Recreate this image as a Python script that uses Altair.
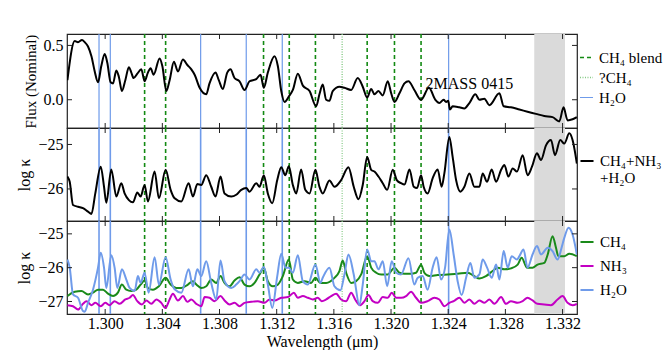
import altair as alt
import pandas as pd

FONT = "Liberation Serif"
FRAME = "#222222"
GREY = "#dadada"
BLUE = "#6f9bea"
DGREEN = "#138a13"
LGREEN = "#86c986"
SP_GREEN = "#1a8a1a"
MAGENTA = "#c300c3"

# ---------------- data ----------------
X_DOMAIN = [1.29733, 1.33301]
X_TICKS = [1.300, 1.304, 1.308, 1.312, 1.316, 1.320, 1.324, 1.328, 1.332]

FLUX_DOMAIN = [-0.26, 0.605]
FLUX_TICKS = [0.0, 0.5]
K2_DOMAIN = [-26.72, -24.63]
K2_TICKS = [-26, -25]
K3_DOMAIN = [-27.37, -24.62]
K3_TICKS = [-27, -26, -25]

H2O_LINES = [1.29957, 1.30036, 1.30668, 1.30987, 1.31239, 1.32403]
CH4_BLEND_LINES = [1.30276, 1.30423, 1.31108, 1.31288, 1.31471, 1.31833, 1.32024, 1.32210]
QCH4_LINES = [1.31658]
SHADE = [1.33002, 1.33217]
LABEL = ("2MASS 0415", 1.32548, 0.147)

LINE_KINDS = ["CH₄ blend", "?CH₄", "H₂O"]
MIX_NAME = "CH₄+NH₃|+H₂O"
SPECIES = ["CH₄", "NH₃", "H₂O"]

FLUX_PTS = [
    (1.29736, 0.18), (1.29787, 0.54), (1.29810, 0.53), (1.29838, 0.55), (1.29857, 0.53),
    (1.29880, 0.49), (1.29904, 0.40), (1.29927, 0.26), (1.29950, 0.16), (1.29973, 0.31),
    (1.29997, 0.42), (1.30015, 0.34), (1.30038, 0.16), (1.30055, 0.15), (1.30078, 0.27),
    (1.30096, 0.21), (1.30117, 0.08), (1.30141, 0.18), (1.30166, 0.30), (1.30183, 0.25),
    (1.30199, 0.20), (1.30225, 0.24), (1.30253, 0.28), (1.30276, 0.17), (1.30299, 0.25),
    (1.30318, 0.29), (1.30339, 0.23), (1.30381, 0.38), (1.30400, 0.31), (1.30428, 0.08),
    (1.30451, 0.18), (1.30481, 0.35), (1.30509, 0.26), (1.30544, 0.37), (1.30575, 0.32),
    (1.30603, 0.28), (1.30626, 0.23), (1.30661, 0.11), (1.30707, 0.05), (1.30730, 0.15),
    (1.30772, 0.25), (1.30795, 0.18), (1.30823, 0.10), (1.30854, 0.25), (1.30877, 0.28),
    (1.30905, 0.20), (1.30940, 0.17), (1.30975, 0.09), (1.31010, 0.17), (1.31057, 0.19),
    (1.31087, 0.23), (1.31110, 0.11), (1.31138, 0.25), (1.31185, 0.40), (1.31208, 0.31),
    (1.31232, 0.08), (1.31255, -0.02), (1.31285, 0.03), (1.31313, 0.09), (1.31348, 0.24),
    (1.31383, 0.13), (1.31430, 0.08), (1.31476, -0.06), (1.31499, 0.05), (1.31522, 0.14),
    (1.31546, 0.00), (1.31569, -0.01), (1.31592, 0.08), (1.31639, 0.12), (1.31674, 0.11),
    (1.31721, 0.09), (1.31767, 0.20), (1.31802, 0.12), (1.31833, 0.02), (1.31861, 0.10),
    (1.31884, 0.05), (1.31912, 0.08), (1.31942, 0.04), (1.31977, 0.17), (1.32001, 0.06),
    (1.32024, -0.02), (1.32059, 0.06), (1.32094, 0.15), (1.32122, 0.17), (1.32163, 0.09),
    (1.32210, 0.00), (1.32265, 0.11), (1.32310, 0.00), (1.32338, -0.03), (1.32368, 0.00),
    (1.32385, -0.02), (1.32400, -0.01), (1.32412, -0.09), (1.32431, -0.06), (1.32478, -0.07),
    (1.32513, -0.08), (1.32548, -0.03), (1.32590, 0.05), (1.32618, 0.00), (1.32653, 0.01),
    (1.32688, -0.05), (1.32758, 0.06), (1.32788, -0.06), (1.32839, -0.07), (1.32898, -0.09),
    (1.32955, -0.11), (1.33014, -0.13), (1.33072, -0.15), (1.33130, -0.16), (1.33177, -0.20),
    (1.33207, -0.07), (1.33235, -0.19), (1.33270, -0.18), (1.33300, -0.16),
]

MIX_PTS = [
    (1.29736, -25.72), (1.29752, -25.84), (1.29775, -26.36), (1.29810, -26.40), (1.29845, -26.43),
    (1.29880, -26.51), (1.29904, -26.56), (1.29931, -26.10), (1.29969, -25.50), (1.29992, -25.95),
    (1.30008, -26.31), (1.30043, -25.56), (1.30078, -26.17), (1.30113, -25.87), (1.30136, -26.10),
    (1.30166, -26.25), (1.30194, -26.30), (1.30225, -26.08), (1.30248, -26.17), (1.30276, -25.91),
    (1.30299, -26.28), (1.30346, -25.61), (1.30376, -26.21), (1.30423, -25.57), (1.30458, -26.02),
    (1.30486, -26.21), (1.30533, -26.28), (1.30584, -25.87), (1.30614, -26.17), (1.30645, -25.89),
    (1.30672, -25.91), (1.30707, -25.69), (1.30742, -25.95), (1.30772, -26.17), (1.30807, -25.72),
    (1.30835, -26.10), (1.30882, -26.17), (1.30917, -26.13), (1.30952, -26.02), (1.30987, -25.98),
    (1.31010, -26.06), (1.31057, -25.87), (1.31080, -25.95), (1.31110, -25.69), (1.31138, -26.10),
    (1.31169, -26.32), (1.31204, -25.80), (1.31232, -25.51), (1.31260, -25.69), (1.31285, -25.49),
    (1.31313, -25.91), (1.31337, -26.10), (1.31371, -25.56), (1.31400, -26.02), (1.31430, -26.10),
    (1.31471, -25.57), (1.31499, -25.95), (1.31522, -26.10), (1.31569, -25.81), (1.31604, -25.95),
    (1.31651, -25.80), (1.31702, -25.51), (1.31739, -25.95), (1.31772, -26.23), (1.31802, -25.91),
    (1.31833, -25.28), (1.31861, -25.57), (1.31884, -25.61), (1.31912, -25.72), (1.31942, -25.87),
    (1.31973, -26.02), (1.32012, -25.57), (1.32040, -25.80), (1.32070, -25.87), (1.32094, -25.90),
    (1.32129, -25.56), (1.32159, -25.95), (1.32182, -25.98), (1.32210, -25.69), (1.32228, -25.95),
    (1.32256, -26.10), (1.32291, -25.76), (1.32326, -25.56), (1.32354, -25.95), (1.32373, -25.65),
    (1.32408, -24.83), (1.32431, -25.28), (1.32455, -25.80), (1.32485, -26.06), (1.32513, -25.95),
    (1.32548, -25.65), (1.32583, -25.95), (1.32618, -25.95), (1.32641, -25.65), (1.32672, -25.84),
    (1.32704, -25.56), (1.32735, -25.84), (1.32770, -25.57), (1.32793, -25.46), (1.32821, -25.72),
    (1.32851, -25.54), (1.32881, -25.61), (1.32921, -25.24), (1.32955, -25.69), (1.32986, -25.50),
    (1.33021, -25.20), (1.33049, -25.35), (1.33084, -25.02), (1.33119, -24.90), (1.33147, -25.24),
    (1.33184, -24.90), (1.33212, -24.98), (1.33247, -24.75), (1.33270, -24.90), (1.33300, -25.43),
]

CH4_PTS = [
    (1.29736, -26.84), (1.29787, -26.71), (1.29834, -26.69), (1.29880, -26.79), (1.29915, -26.74),
    (1.29950, -26.65), (1.29985, -26.65), (1.30020, -26.77), (1.30055, -26.84), (1.30089, -26.74),
    (1.30117, -26.50), (1.30148, -26.65), (1.30183, -26.69), (1.30218, -26.65), (1.30248, -26.50),
    (1.30276, -26.38), (1.30299, -26.60), (1.30334, -26.65), (1.30376, -26.55), (1.30423, -26.30),
    (1.30458, -26.50), (1.30498, -26.60), (1.30533, -26.60), (1.30579, -26.50), (1.30614, -26.40),
    (1.30638, -26.50), (1.30672, -26.60), (1.30707, -26.55), (1.30742, -26.35), (1.30777, -26.45),
    (1.30807, -26.25), (1.30835, -26.45), (1.30870, -26.55), (1.30905, -26.38), (1.30940, -26.28),
    (1.30975, -26.50), (1.31010, -26.55), (1.31045, -26.45), (1.31080, -26.20), (1.31110, -26.00),
    (1.31138, -26.40), (1.31173, -26.55), (1.31208, -26.50), (1.31243, -26.25), (1.31285, -25.76),
    (1.31313, -26.35), (1.31348, -26.45), (1.31395, -26.40), (1.31441, -26.45), (1.31471, -26.30),
    (1.31506, -26.45), (1.31546, -26.45), (1.31604, -26.30), (1.31639, -26.10), (1.31662, -25.79),
    (1.31686, -26.15), (1.31721, -26.45), (1.31756, -26.40), (1.31791, -26.20), (1.31833, -25.66),
    (1.31861, -26.00), (1.31896, -26.15), (1.31931, -26.20), (1.31977, -26.20), (1.32024, -26.00),
    (1.32059, -26.15), (1.32094, -26.18), (1.32135, -26.18), (1.32175, -26.15), (1.32210, -25.91),
    (1.32233, -26.15), (1.32268, -26.25), (1.32326, -26.22), (1.32396, -26.20), (1.32466, -26.18),
    (1.32536, -26.15), (1.32583, -26.25), (1.32618, -26.32), (1.32664, -26.25), (1.32711, -26.10),
    (1.32746, -26.00), (1.32793, -26.05), (1.32839, -26.02), (1.32886, -25.91), (1.32914, -25.71),
    (1.32951, -26.00), (1.32990, -26.00), (1.33025, -25.91), (1.33072, -25.86), (1.33096, -25.61),
    (1.33130, -25.07), (1.33154, -25.41), (1.33170, -25.66), (1.33212, -25.66), (1.33247, -25.59),
    (1.33300, -25.66),
]

NH3_PTS = [
    (1.29736, -27.11), (1.29775, -27.14), (1.29810, -27.24), (1.29845, -27.07), (1.29869, -26.99),
    (1.29904, -27.11), (1.29931, -27.04), (1.29969, -27.14), (1.30001, -27.04), (1.30031, -27.11),
    (1.30066, -26.99), (1.30101, -27.07), (1.30141, -26.94), (1.30171, -26.89), (1.30194, -26.81),
    (1.30225, -26.99), (1.30257, -27.09), (1.30288, -26.97), (1.30323, -27.07), (1.30358, -26.94),
    (1.30393, -27.04), (1.30421, -27.19), (1.30451, -26.94), (1.30474, -26.77), (1.30509, -26.97),
    (1.30544, -26.84), (1.30575, -27.01), (1.30603, -26.94), (1.30638, -27.07), (1.30672, -27.14),
    (1.30696, -26.87), (1.30730, -26.89), (1.30765, -26.99), (1.30807, -26.84), (1.30835, -26.97),
    (1.30870, -27.09), (1.30905, -27.04), (1.30940, -27.14), (1.30975, -27.04), (1.31022, -27.01),
    (1.31068, -26.99), (1.31115, -27.04), (1.31150, -26.94), (1.31185, -26.97), (1.31232, -26.89),
    (1.31279, -26.87), (1.31320, -26.74), (1.31348, -26.89), (1.31383, -26.84), (1.31418, -26.89),
    (1.31453, -26.94), (1.31487, -26.89), (1.31515, -26.99), (1.31546, -26.94), (1.31581, -26.84),
    (1.31616, -26.77), (1.31651, -26.94), (1.31686, -26.99), (1.31721, -26.74), (1.31749, -26.94),
    (1.31784, -27.11), (1.31814, -26.99), (1.31842, -26.81), (1.31872, -26.99), (1.31907, -27.04),
    (1.31942, -26.87), (1.31977, -26.89), (1.32005, -26.74), (1.32036, -26.89), (1.32070, -26.89),
    (1.32105, -26.84), (1.32140, -26.71), (1.32175, -26.89), (1.32210, -27.04), (1.32256, -26.99),
    (1.32303, -26.89), (1.32338, -26.94), (1.32373, -27.14), (1.32408, -27.04), (1.32438, -26.99),
    (1.32478, -26.89), (1.32513, -27.04), (1.32548, -26.94), (1.32583, -27.07), (1.32618, -26.97),
    (1.32653, -27.04), (1.32688, -26.94), (1.32723, -27.07), (1.32770, -26.87), (1.32804, -27.07),
    (1.32839, -26.99), (1.32886, -27.04), (1.32921, -26.99), (1.32955, -26.89), (1.32990, -26.97),
    (1.33025, -27.07), (1.33072, -27.09), (1.33119, -27.11), (1.33165, -26.94), (1.33200, -26.84),
    (1.33235, -27.04), (1.33270, -27.11), (1.33300, -27.07),
]

H2O_PTS = [
    (1.29736, -25.76), (1.29752, -26.00), (1.29775, -26.79), (1.29810, -26.89), (1.29845, -27.28),
    (1.29857, -27.30), (1.29880, -27.04), (1.29915, -26.65), (1.29950, -26.00), (1.29969, -25.56),
    (1.29992, -26.00), (1.30008, -26.60), (1.30043, -25.63), (1.30066, -26.00), (1.30085, -26.60),
    (1.30117, -26.05), (1.30148, -26.35), (1.30171, -26.60), (1.30206, -26.69), (1.30229, -26.25),
    (1.30248, -26.45), (1.30276, -26.15), (1.30304, -26.74), (1.30346, -25.69), (1.30376, -26.50),
    (1.30423, -25.69), (1.30458, -26.35), (1.30486, -26.64), (1.30533, -26.74), (1.30584, -26.05),
    (1.30614, -26.55), (1.30645, -26.05), (1.30672, -26.25), (1.30707, -25.81), (1.30742, -26.45),
    (1.30777, -26.94), (1.30807, -25.79), (1.30835, -26.40), (1.30882, -26.60), (1.30917, -26.50),
    (1.30940, -26.40), (1.30975, -26.20), (1.31010, -26.35), (1.31057, -26.05), (1.31080, -26.15),
    (1.31110, -25.98), (1.31138, -26.50), (1.31169, -27.19), (1.31204, -26.25), (1.31232, -25.59),
    (1.31262, -26.00), (1.31285, -26.00), (1.31313, -26.15), (1.31348, -25.63), (1.31383, -26.40),
    (1.31418, -26.50), (1.31471, -25.91), (1.31506, -26.45), (1.31522, -26.30), (1.31569, -26.00),
    (1.31604, -26.55), (1.31646, -26.67), (1.31674, -26.20), (1.31702, -25.61), (1.31739, -26.20),
    (1.31779, -27.11), (1.31802, -26.50), (1.31833, -25.46), (1.31861, -25.81), (1.31884, -25.81),
    (1.31912, -26.05), (1.31942, -25.81), (1.31973, -26.55), (1.32005, -25.81), (1.32036, -26.15),
    (1.32070, -26.20), (1.32122, -25.72), (1.32163, -26.50), (1.32186, -26.30), (1.32221, -26.25),
    (1.32256, -26.65), (1.32291, -26.00), (1.32319, -25.69), (1.32350, -26.35), (1.32378, -26.00),
    (1.32408, -24.87), (1.32438, -25.61), (1.32466, -26.40), (1.32494, -26.81), (1.32525, -26.30),
    (1.32555, -25.86), (1.32583, -26.30), (1.32618, -26.20), (1.32641, -25.76), (1.32672, -26.00),
    (1.32704, -26.30), (1.32735, -25.91), (1.32758, -26.35), (1.32788, -25.51), (1.32816, -26.00),
    (1.32844, -25.66), (1.32881, -25.76), (1.32898, -25.66), (1.32927, -25.46), (1.32955, -26.00),
    (1.32990, -25.61), (1.33021, -25.36), (1.33049, -25.61), (1.33096, -25.41), (1.33130, -25.51),
    (1.33165, -25.76), (1.33193, -25.41), (1.33212, -25.12), (1.33242, -24.82), (1.33270, -25.02),
    (1.33300, -25.61),
]

# ---------------- layout ----------------
W = 510
H1, H2, H3 = 94, 93, 93
TICK = 5
LEG_X = 512

xscale = alt.Scale(domain=X_DOMAIN, nice=False, zero=False)
AX_FONT = dict(labelFont=FONT, titleFont=FONT, labelFontSize=16, titleFontSize=16, labelColor="black",
               titleColor="black", titleFontWeight="normal", grid=False, domain=False, ticks=False,
               labelPadding=4)


def pts_df(pts, name):
    return pd.DataFrame({"wl": [p[0] for p in pts], "v": [p[1] for p in pts], "name": name})


def xenc(field, axis):
    return alt.X(f"{field}:Q", scale=xscale, axis=axis)


def frame_layers(h, yscale, yaxis, xaxis, yticks):
    shade = alt.Chart(pd.DataFrame({"lo": [SHADE[0]], "hi": [SHADE[1]]})).mark_rect(
        color=GREY).encode(x=xenc("lo", xaxis), x2="hi:Q")
    xt = pd.DataFrame({"t": X_TICKS})
    yt = pd.DataFrame({"v": yticks})
    rule = dict(color=FRAME, strokeWidth=1)
    top = alt.Chart(xt).mark_rule(**rule).encode(x=xenc("t", xaxis), y=alt.value(0), y2=alt.value(TICK))
    bot = alt.Chart(xt).mark_rule(**rule).encode(x=xenc("t", xaxis), y=alt.value(h), y2=alt.value(h - TICK))
    left = alt.Chart(yt).mark_rule(**rule).encode(
        y=alt.Y("v:Q", scale=yscale, axis=yaxis), x=alt.value(0), x2=alt.value(TICK))
    right = alt.Chart(yt).mark_rule(**rule).encode(
        y=alt.Y("v:Q", scale=yscale, axis=yaxis), x=alt.value(W), x2=alt.value(W - TICK))
    return shade, [top, bot, left, right]


def plain_rules(xaxis):
    h2o = alt.Chart(pd.DataFrame({"wl": H2O_LINES})).mark_rule(color=BLUE, strokeWidth=1.6).encode(
        x=xenc("wl", xaxis))
    ch4 = alt.Chart(pd.DataFrame({"wl": CH4_BLEND_LINES})).mark_rule(
        color=DGREEN, strokeWidth=1.6, strokeDash=[4, 3]).encode(x=xenc("wl", xaxis))
    q = alt.Chart(pd.DataFrame({"wl": QCH4_LINES})).mark_rule(
        color=LGREEN, strokeWidth=1.2, strokeDash=[1, 1.5]).encode(x=xenc("wl", xaxis))
    return [ch4, q, h2o]


def legend(y, rowpad, **kw):
    return alt.Legend(orient="none", legendX=LEG_X, legendY=y, title=None, symbolType="stroke",
                      symbolSize=170, symbolStrokeWidth=2, labelFont=FONT, labelFontSize=15,
                      labelColor="black", rowPadding=rowpad, labelOffset=5, labelLimit=120, padding=0,
                      **kw)


# ---- panel 1 ----
ax_none = None
y1 = alt.Scale(domain=FLUX_DOMAIN, nice=False, zero=False)
y1ax = alt.Axis(values=FLUX_TICKS, format=".1f", title="Flux (Nominal)", titlePadding=5,
                **{**AX_FONT, "titleFontSize": 15})
shade1, ticks1 = frame_layers(H1, y1, y1ax, ax_none, FLUX_TICKS)
lines_df = pd.DataFrame(
    [{"wl": w, "kind": LINE_KINDS[0]} for w in CH4_BLEND_LINES]
    + [{"wl": w, "kind": LINE_KINDS[1]} for w in QCH4_LINES]
    + [{"wl": w, "kind": LINE_KINDS[2]} for w in H2O_LINES])
leg1 = legend(16, 4)
rules1 = alt.Chart(lines_df).mark_rule().encode(
    x=xenc("wl", ax_none),
    color=alt.Color("kind:N", scale=alt.Scale(domain=LINE_KINDS, range=[DGREEN, LGREEN, BLUE]), legend=leg1),
    strokeDash=alt.StrokeDash("kind:N", scale=alt.Scale(domain=LINE_KINDS, range=[[4, 3], [1, 1.5], [1, 0]]),
                              legend=leg1),
    strokeWidth=alt.StrokeWidth("kind:N", scale=alt.Scale(domain=LINE_KINDS, range=[1.6, 1.2, 1.6]),
                                legend=None),
)
flux = alt.Chart(pts_df(FLUX_PTS, "flux")).mark_line(color="black", strokeWidth=2, interpolate="monotone",
                                                    clip=True).encode(
    x=xenc("wl", ax_none), y=alt.Y("v:Q", scale=y1, axis=y1ax))
label = alt.Chart(pd.DataFrame({"t": [LABEL[0]], "x": [LABEL[1]], "y": [LABEL[2]]})).mark_text(
    font=FONT, fontSize=16, color="black").encode(
    x=xenc("x", ax_none), y=alt.Y("y:Q", scale=y1, axis=y1ax), text="t:N")
p1 = alt.layer(shade1, rules1, flux, label, *ticks1).properties(width=W, height=H1)

# ---- panel 2 ----
y2 = alt.Scale(domain=K2_DOMAIN, nice=False, zero=False)
y2ax = alt.Axis(values=K2_TICKS, format="d", title="log κ", titlePadding=5, **AX_FONT)
shade2, ticks2 = frame_layers(H2, y2, y2ax, ax_none, K2_TICKS)
mix = alt.Chart(pts_df(MIX_PTS, MIX_NAME)).mark_line(strokeWidth=2, interpolate="monotone", clip=True).encode(
    x=xenc("wl", ax_none), y=alt.Y("v:Q", scale=y2, axis=y2ax),
    color=alt.Color("name:N", scale=alt.Scale(domain=[MIX_NAME], range=["black"]),
                    legend=legend(25, 2, labelExpr="split(datum.label, '|')")))
p2 = alt.layer(shade2, *plain_rules(ax_none), mix, *ticks2).properties(width=W, height=H2)

# ---- panel 3 ----
x3ax = alt.Axis(values=X_TICKS, format=".3f", title="Wavelength (μm)", titlePadding=2,
                **{**AX_FONT, "labelPadding": 1})
y3 = alt.Scale(domain=K3_DOMAIN, nice=False, zero=False)
y3ax = alt.Axis(values=K3_TICKS, format="d", title="log κ", titlePadding=5, **AX_FONT)
shade3, ticks3 = frame_layers(H3, y3, y3ax, x3ax, K3_TICKS)
spec_df = pd.concat([pts_df(CH4_PTS, SPECIES[0]), pts_df(NH3_PTS, SPECIES[1]), pts_df(H2O_PTS, SPECIES[2])])
spec = alt.Chart(spec_df).mark_line(strokeWidth=2, interpolate="monotone", clip=True).encode(
    x=xenc("wl", x3ax), y=alt.Y("v:Q", scale=y3, axis=y3ax),
    color=alt.Color("name:N", scale=alt.Scale(domain=SPECIES, range=[SP_GREEN, MAGENTA, BLUE]),
                    legend=legend(13, 8)))
p3 = alt.layer(shade3, *plain_rules(x3ax), spec, *ticks3).properties(width=W, height=H3)

chart = alt.vconcat(p1, p2, p3, spacing=0, bounds="flush").resolve_scale(
    x="independent", y="independent", color="independent", strokeDash="independent", strokeWidth="independent"
).resolve_legend(color="independent", strokeDash="independent").properties(
    padding={"left": 8, "top": 24, "right": 0, "bottom": 0}
).configure(font=FONT).configure_view(stroke=FRAME, strokeWidth=1.2).configure_axis(**AX_FONT)

chart.save("out.html", embed_options={"renderer": "svg", "actions": False})
